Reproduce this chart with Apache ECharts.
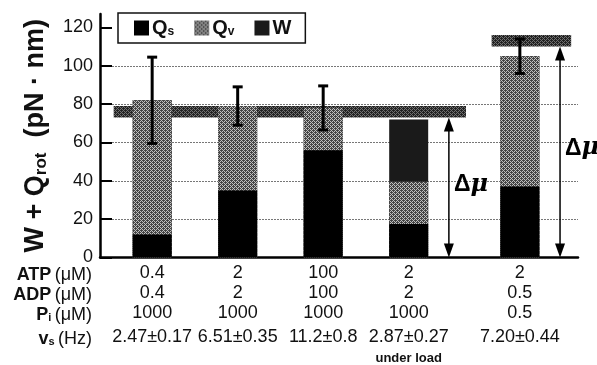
<!DOCTYPE html>
<html>
<head>
<meta charset="utf-8">
<script src="https://cdn.jsdelivr.net/npm/echarts@6/dist/echarts.min.js"></script>
<style>
  html, body { margin: 0; padding: 0; background: #fff; }
  #chart { width: 597px; height: 365px; }
</style>
</head>
<body>
<div id="chart"></div>
<script>
// x position of each condition on the axis (the last one is set apart)
const condPos = [1, 2, 3, 4, 5.3];
const atp = ['0.4', '2', '100', '2', '2'];
const adp = ['0.4', '2', '100', '2', '0.5'];
const pi = ['1000', '1000', '1000', '1000', '0.5'];
const vs = ['2.47±0.17', '6.51±0.35', '11.2±0.8', '2.87±0.27', '7.20±0.44'];
const notes = ['', '', '', 'under load', ''];

// stacked parts, pN·nm
const qs = [12, 35, 56, 17.5, 37];
const qv = [70, 44, 22, 22, 68];
const work = [0, 0, 0, 32.5, 0];
const errBar = [22.5, 10, 11.5, 0, 9];

// Δμ levels: [from x, to x, low, high]
const dmuBands = [[0.55, 4.67, 73, 79], [4.97, 5.9, 110, 116]];
// Δμ arrows: [x, top, label height]
const dmuArrows = [[4.47, 73, 38], [5.77, 110, 57]];

const yTicks = [0, 20, 40, 60, 80, 100, 120];

function dither(a, b) {
  const c = document.createElement('canvas');
  c.width = 4; c.height = 4;
  const g = c.getContext('2d');
  g.fillStyle = b; g.fillRect(0, 0, 4, 4);
  g.fillStyle = a;
  [[0,0],[2,0],[1,1],[3,1],[0,2],[2,2],[1,3],[3,3],[3,0],[1,2]].forEach(p => g.fillRect(p[0], p[1], 1, 1));
  return { image: c, repeat: 'repeat' };
}
const qvFill = dither('#444', '#c0c0c0');
const bandFill = dither('#222', '#707070');
const wFill = '#1a1a1a';

const chart = echarts.init(document.getElementById('chart'), null, { renderer: 'canvas' });
const font = 'Liberation Sans, Arial, Helvetica, sans-serif';

// cumulative tops for overlaid bars
const topQs = qs.slice();
const topQv = qs.map((v, i) => v + qv[i]);
const topW = topQv.map((v, i) => v + work[i]);

const rowRich = {
  b: { fontSize: 18, fontWeight: 'bold', fontFamily: font, fill: '#111' },
  s: { fontSize: 11, fontWeight: 'bold', fontFamily: font, fill: '#111', padding: [6, 0, 0, 0] },
  r: { fontSize: 18, fontFamily: font, fill: '#111' }
};
function rowLabel(text, y) {
  return { type: 'text', right: 505, top: y, style: { text: text, align: 'right', rich: rowRich } };
}

chart.setOption({
  animation: false,
  textStyle: { fontFamily: font, color: '#111' },
  grid: { left: 100, right: 19, top: 14, bottom: 104 },
  legend: {
    left: 118, top: 13,
    padding: [5, 14, 5, 16],
    borderColor: '#111', borderWidth: 1.5,
    backgroundColor: '#fff',
    itemWidth: 15, itemHeight: 15, itemGap: 20,
    icon: 'rect',
    data: ['Qs', 'Qv', 'W'],
    formatter: n => n === 'W' ? '{m|W}' : '{m|Q}{s|' + n.slice(1) + '}',
    textStyle: {
      padding: [0, 0, 0, -2],
      rich: {
        m: { fontSize: 20, fontWeight: 'bold', fontFamily: font, color: '#111' },
        s: { fontSize: 12, fontWeight: 'bold', fontFamily: font, color: '#111', padding: [8, 0, 0, 0] }
      }
    }
  },
  xAxis: {
    type: 'value', min: 0.39, max: 5.98,
    axisLine: { lineStyle: { color: '#000', width: 2.5 } },
    axisTick: { show: false },
    splitLine: { show: false },
    axisLabel: {
      customValues: condPos,
      margin: 6,
      formatter: v => {
        const i = condPos.indexOf(v);
        let t = '{n|' + atp[i] + '}\n{n|' + adp[i] + '}\n{n|' + pi[i] + '}\n{v|' + vs[i] + '}';
        if (notes[i]) t += '\n{u|' + notes[i] + '}';
        return t;
      },
      rich: {
        n: { fontSize: 18, lineHeight: 20, fontFamily: font, color: '#111' },
        v: { fontSize: 18, lineHeight: 28, fontFamily: font, color: '#111' },
        u: { fontSize: 13, lineHeight: 14, fontWeight: 'bold', fontFamily: font, color: '#111' }
      }
    }
  },
  yAxis: {
    type: 'value', min: 0, max: 127, interval: 20,
    name: '{m|W + Q}{s|rot}{m|  (pN · nm)}',
    nameLocation: 'middle', nameGap: 50,
    nameTextStyle: {
      rich: {
        m: { fontSize: 27, fontWeight: 'bold', fontFamily: font, color: '#111' },
        s: { fontSize: 17, fontWeight: 'bold', fontFamily: font, color: '#111', padding: [12, 0, 0, 0] }
      }
    },
    axisLine: { show: true, lineStyle: { color: '#000', width: 2.5 } },
    axisTick: { show: true, inside: true, length: 12, customValues: yTicks, lineStyle: { color: '#000', width: 2 } },
    axisLabel: { customValues: yTicks, fontSize: 18, color: '#111', margin: 7 },
    splitLine: { show: true, showMaxLine: false, lineStyle: { color: '#777', width: 1, type: [2, 1] } }
  },
  series: [
    {
      type: 'custom', name: 'dmu', z: 1, silent: true,
      data: dmuBands,
      renderItem: (params, api) => {
        const a = api.coord([api.value(0), api.value(3)]);
        const b = api.coord([api.value(1), api.value(2)]);
        return { type: 'rect', shape: { x: a[0], y: a[1], width: b[0] - a[0], height: b[1] - a[1] }, style: { fill: bandFill } };
      }
    },
    {
      type: 'bar', name: 'W', barWidth: 39, barGap: '-100%', z: 2,
      itemStyle: { color: wFill },
      data: condPos.map((x, i) => [x, topW[i]])
    },
    {
      type: 'bar', name: 'Qv', barWidth: 39, barGap: '-100%', z: 2,
      itemStyle: { color: qvFill },
      data: condPos.map((x, i) => [x, topQv[i]])
    },
    {
      type: 'bar', name: 'Qs', barWidth: 39, barGap: '-100%', z: 2,
      itemStyle: { color: '#000' },
      data: condPos.map((x, i) => [x, topQs[i]])
    },
    {
      type: 'custom', name: 'err', z: 5, silent: true,
      data: condPos.map((x, i) => [x, topW[i], errBar[i]]).filter(d => d[2] > 0),
      renderItem: (params, api) => {
        const x = api.value(0), m = api.value(1), e = api.value(2);
        const t = api.coord([x, m + e]), b = api.coord([x, m - e]);
        const st = { stroke: '#000', lineWidth: 3 };
        return {
          type: 'group', children: [
            { type: 'line', shape: { x1: t[0], y1: t[1], x2: b[0], y2: b[1] }, style: st },
            { type: 'line', shape: { x1: t[0] - 5, y1: t[1], x2: t[0] + 5, y2: t[1] }, style: st },
            { type: 'line', shape: { x1: b[0] - 5, y1: b[1], x2: b[0] + 5, y2: b[1] }, style: st }
          ]
        };
      }
    },
    {
      type: 'custom', name: 'arrows', z: 6, silent: true,
      data: dmuArrows,
      renderItem: (params, api) => {
        const x = api.value(0);
        const t = api.coord([x, api.value(1)]), b = api.coord([x, 0]);
        const l = api.coord([x, api.value(2)]);
        const h = 14, w = 5;
        return {
          type: 'group', children: [
            { type: 'line', shape: { x1: t[0], y1: t[1] + h - 2, x2: b[0], y2: b[1] - h + 2 }, style: { stroke: '#000', lineWidth: 1.5 } },
            { type: 'polygon', shape: { points: [[t[0], t[1]], [t[0] - w, t[1] + h], [t[0] + w, t[1] + h]] }, style: { fill: '#000' } },
            { type: 'polygon', shape: { points: [[b[0], b[1]], [b[0] - w, b[1] - h], [b[0] + w, b[1] - h]] }, style: { fill: '#000' } },
            { type: 'text', x: l[0] + 5, y: l[1], style: {
                text: '{d|Δ}{u|μ}', verticalAlign: 'middle', align: 'left',
                rich: {
                  d: { fontSize: 23, fontWeight: 'bold', fontFamily: font, fill: '#000' },
                  u: { fontSize: 24, fontWeight: 'bold', fontStyle: 'italic', fontFamily: 'DejaVu Serif, serif', fill: '#000' }
                }
              } }
          ]
        };
      }
    }
  ],
  graphic: [
    rowLabel('{b|ATP} {r|(μM)}', 266),
    rowLabel('{b|ADP} {r|(μM)}', 286),
    rowLabel('{b|P}{s|i} {r|(μM)}', 306),
    rowLabel('{b|v}{s|s} {r|(Hz)}', 330)
  ]
});
</script>
</body>
</html>
